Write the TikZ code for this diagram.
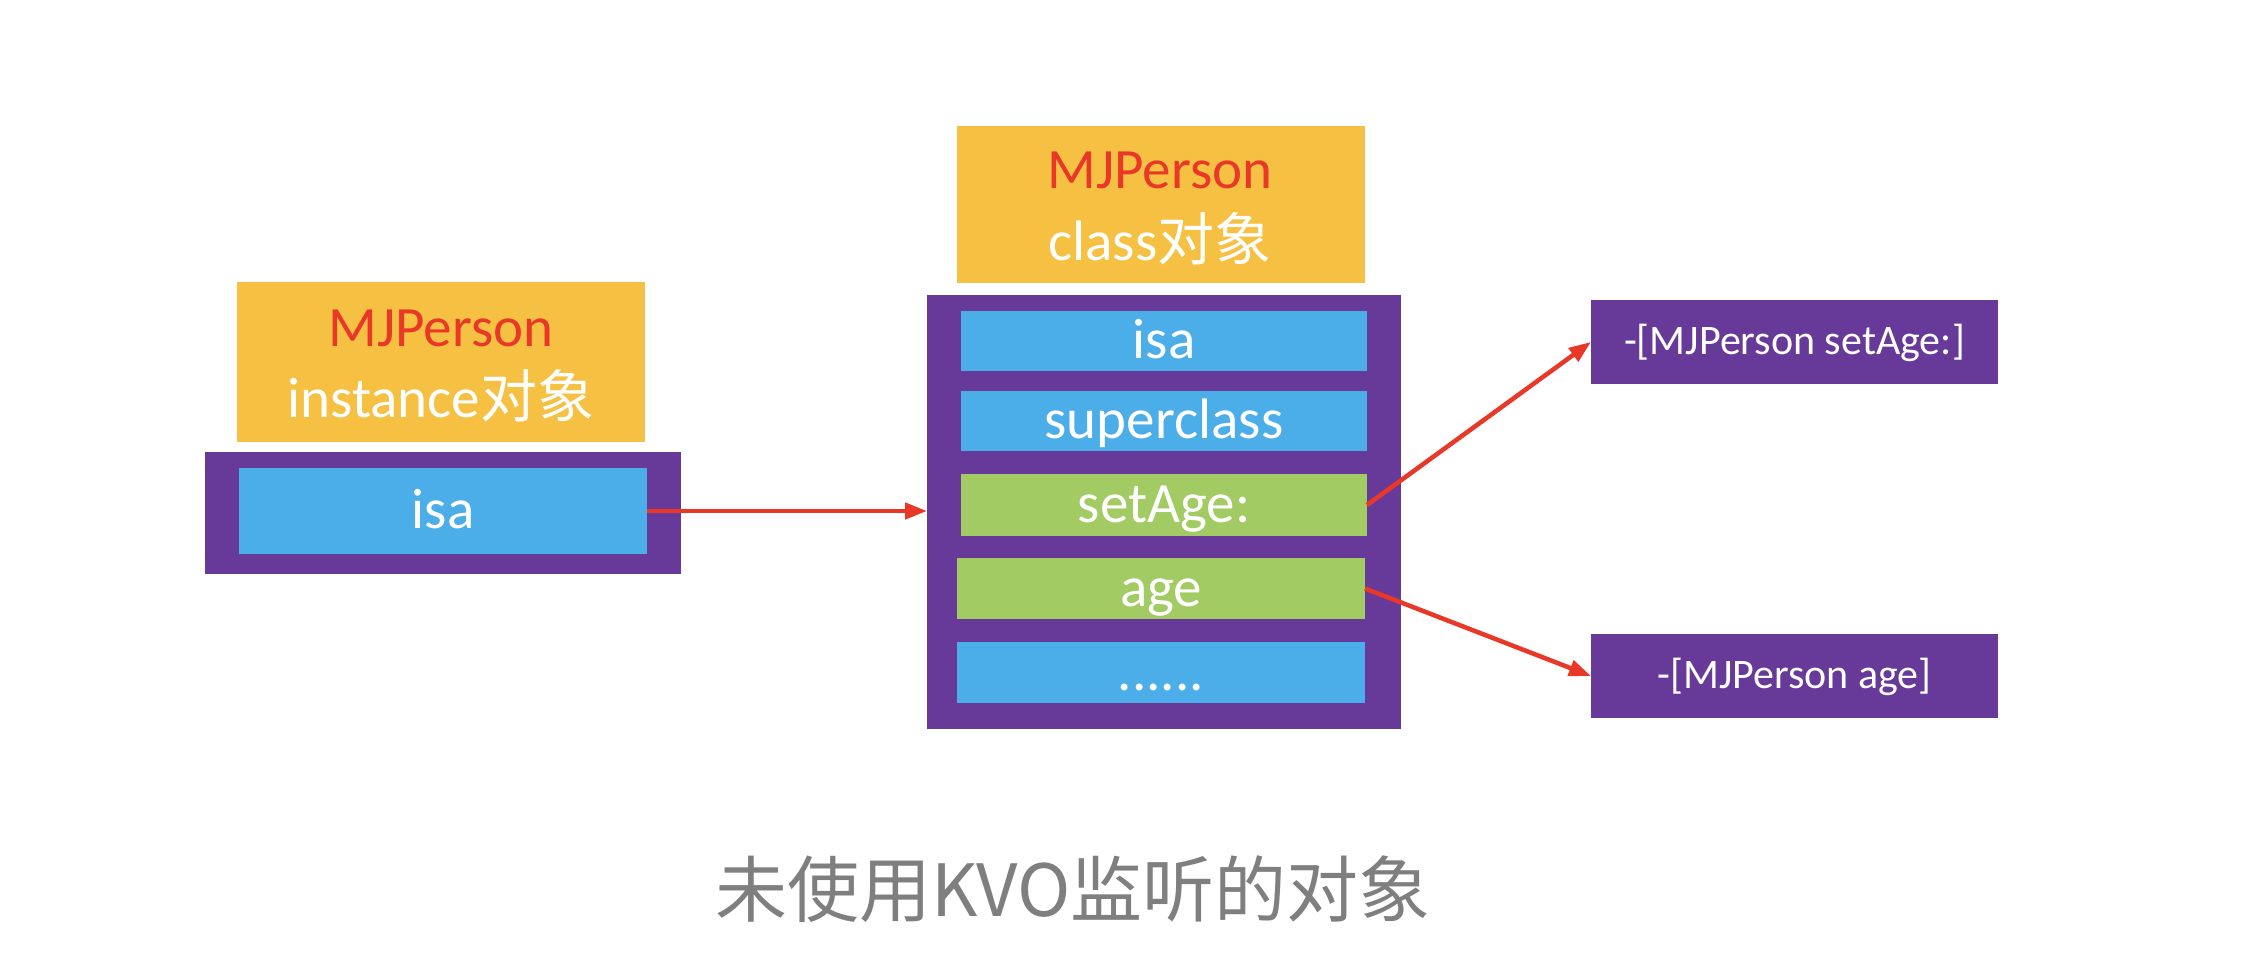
\documentclass[tikz,border=0pt]{standalone}
\usepackage{fontspec}
\setmainfont{Carlito}
\newfontfamily\cjk{Noto Sans CJK SC}
\usetikzlibrary{arrows.meta}
\definecolor{kyellow}{RGB}{246,193,67}
\definecolor{kpurple}{RGB}{103,58,153}
\definecolor{kblue}{RGB}{75,174,232}
\definecolor{kgreen}{RGB}{162,204,99}
\definecolor{kred}{RGB}{233,55,40}
\definecolor{kgray}{RGB}{127,127,127}
\begin{document}
\begin{tikzpicture}[x=1pt,y=-1pt,
  box/.style={draw=none,inner sep=0pt,outer sep=0pt},
  hdrbox/.style={box,fill=kyellow,minimum width=408pt},
  objbox/.style={box,fill=kpurple},
  rowtext/.style={text=white,font=\fontsize{57}{60}\selectfont,text height=40pt,text depth=5pt},
  bluerow/.style={box,fill=kblue,rowtext},
  greenrow/.style={box,fill=kgreen,rowtext},
  hdrred/.style={anchor=base,inner sep=0pt,text=kred,font=\fontsize{57}{60}\selectfont},
  hdrwhite/.style={anchor=base,inner sep=0pt,text=white,font=\fontsize{57}{60}\selectfont},
  methbox/.style={box,fill=kpurple,text=white,minimum width=407pt,minimum height=84pt,
    font=\fontsize{42}{44}\selectfont,text height=30pt,text depth=6pt},
  conn/.style={draw=kred,line width=4.5pt,-{Triangle[length=22pt,width=16pt]}},
  caption/.style={text=kgray,inner sep=0pt,font=\cjk\fontsize{72}{76}\selectfont}
]
\useasboundingbox[fill=white] (0,0) rectangle (2254,970);

% left: instance object
\node[hdrbox,minimum height=160pt] (hdrL) at (441,362) {};
\node[hdrred] (hdrLa) at (441,346) {MJPerson};
\node[hdrwhite] (hdrLb) at (441,417) {instance{\cjk 对象}};
\node[objbox,minimum width=476pt,minimum height=122pt] (objL) at (443,513) {};
\node[bluerow,minimum width=408pt,minimum height=86pt] (isaL) at (443,511) {isa};

% center: class object
\node[hdrbox,minimum height=157pt] (hdrC) at (1161,204.5) {};
\node[hdrred] (hdrCa) at (1160,188) {MJPerson};
\node[hdrwhite] (hdrCb) at (1160,260) {class{\cjk 对象}};
\node[objbox,minimum width=474pt,minimum height=434pt] (clsC) at (1164,512) {};
\node[bluerow,minimum width=406pt,minimum height=60pt] (isaC) at (1164,341) {isa};
\node[bluerow,minimum width=406pt,minimum height=60pt] (supC) at (1164,420.5) {superclass};
\node[greenrow,minimum width=406pt,minimum height=62pt] (setC) at (1164,505) {setAge:};
\node[greenrow,minimum width=408pt,minimum height=61pt] (ageC) at (1161,588.5) {age};
\node[bluerow,minimum width=408pt,minimum height=61pt] (dotC) at (1161,672.5) {......};

% right: methods
\node[methbox] (mTop) at (1794.5,342) {-[MJPerson setAge:]};
\node[methbox] (mBot) at (1794.5,676) {-[MJPerson age]};

% connectors
\draw[conn] (isaL.east) -- (isaL.east -| clsC.west);
\draw[conn] (setC.east) -- (mTop.west);
\draw[conn] (ageC.east) -- (mBot.west);

% caption
\node[caption] (cap) at (1073,889) {未使用KVO监听的对象};
\end{tikzpicture}
\end{document}
